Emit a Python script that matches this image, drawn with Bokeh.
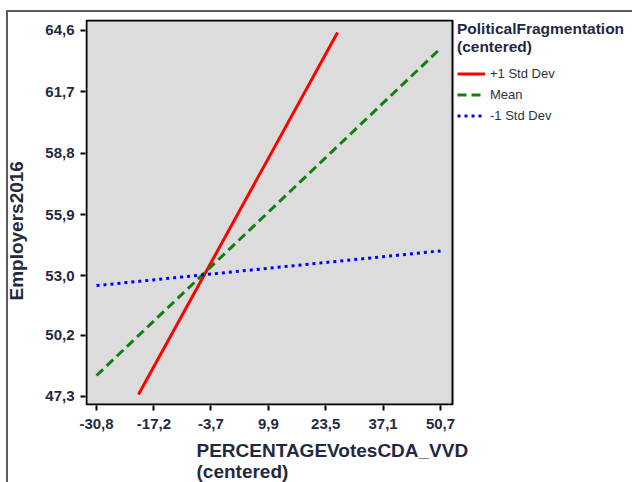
from bokeh.plotting import figure
from bokeh.models import Legend, LegendItem, FixedTicker, Range1d, Title, BoxAnnotation
from bokeh.embed import file_html
from bokeh.resources import INLINE

# data
x_ticks = [-30.8, -17.2, -3.7, 9.9, 23.5, 37.1, 50.7]
x_tick_labels = ["-30,8", "-17,2", "-3,7", "9,9", "23,5", "37,1", "50,7"]
y_ticks = [47.3, 50.2, 53.0, 55.9, 58.8, 61.7, 64.6]
y_tick_labels = ["47,3", "50,2", "53,0", "55,9", "58,8", "61,7", "64,6"]

plus_x = [-20.85, 26.3]
plus_y = [47.39, 64.5]
mean_x = [-30.8, 50.7]
mean_y = [48.29, 63.75]
minus_x = [-30.8, 50.7]
minus_y = [52.54, 54.18]

series_names = ["+1 Std Dev", "Mean", "-1 Std Dev"]
legend_title = ["PoliticalFragmentation", "(centered)"]
x_label = ["PERCENTAGEVotesCDA_VVD", "(centered)"]
y_label = "Employers2016"

# plot-area (gray box) limits in data units
box_x = (-33.17, 53.54)
box_y = (46.92, 65.07)

FONT = "Liberation Sans"
TICK_COLOR = "#1f2a40"

frame_lines = ("linear-gradient(#5a5a5a, #5a5a5a) 36px 10px / 2px 480px no-repeat, "
               "linear-gradient(#5a5a5a, #5a5a5a) 36px 10px / 630px 2px no-repeat, #ffffff")

p = figure(width=662, height=500, output_backend="svg", toolbar_location=None,
           x_range=Range1d(-33.41, 96.18), y_range=Range1d(46.873, 65.117),
           min_border_left=115, min_border_right=0, min_border_top=19, min_border_bottom=95,
           margin=(0, 0, 0, -30), styles={"background": frame_lines})

p.background_fill_color = "white"
p.border_fill_alpha = 0
p.outline_line_color = None
p.xgrid.visible = False
p.ygrid.visible = False

p.add_layout(BoxAnnotation(left=box_x[0], right=box_x[1], bottom=box_y[0], top=box_y[1],
                           fill_color="#dcdcdc", fill_alpha=1.0, line_color="black",
                           line_width=2, line_alpha=1.0, level="underlay"))

for ax, ticks, labels in ((p.xaxis[0], x_ticks, x_tick_labels), (p.yaxis[0], y_ticks, y_tick_labels)):
    ax.ticker = FixedTicker(ticks=ticks)
    ax.major_label_overrides = {t: l for t, l in zip(ticks, labels)}
    ax.axis_line_color = None
    ax.major_tick_line_color = "black"
    ax.major_tick_line_width = 2
    ax.major_tick_out = 5
    ax.major_tick_in = 0
    ax.minor_tick_line_color = None
    ax.major_label_text_font = FONT
    ax.major_label_text_font_style = "bold"
    ax.major_label_text_font_size = "15px"
    ax.major_label_text_color = TICK_COLOR
    ax.major_label_standoff = 6
p.xaxis[0].major_label_standoff = 8

r1 = p.line(plus_x, plus_y, line_color="#ff0000", line_width=3)
r2 = p.line(mean_x, mean_y, line_color="#108010", line_width=3, line_dash="9 5")
r3 = p.line(minus_x, minus_y, line_color="#0000ff", line_width=3, line_dash="3 4")

legend = Legend(items=[LegendItem(label=series_names[0], renderers=[r1]),
                       LegendItem(label=series_names[1], renderers=[r2]),
                       LegendItem(label=series_names[2], renderers=[r3])],
                location=(372, 279.5), orientation="vertical", title="\n".join(legend_title))
legend.title_text_font = FONT
legend.title_text_font_style = "bold"
legend.title_text_font_size = "15.5px"
legend.title_text_color = TICK_COLOR
legend.title_standoff = 7
legend.label_text_font = FONT
legend.label_text_font_size = "13px"
legend.label_text_color = "#2b3340"
legend.glyph_width = 28
legend.glyph_height = 21
legend.label_height = 21
legend.label_standoff = 5
legend.spacing = 0
legend.padding = 0
legend.margin = 0
legend.border_line_alpha = 0
legend.background_fill_alpha = 0
p.add_layout(legend, "center")

# axis labels as titles
p.add_layout(Title(text="\n".join(x_label), align="left", offset=111, text_font=FONT,
                   text_font_style="bold", text_font_size="19px", text_color=TICK_COLOR,
                   standoff=12), "below")

p.add_layout(Title(text=y_label, align="left", offset=105, text_font=FONT, text_font_style="bold",
                   text_font_size="19px", text_color=TICK_COLOR, standoff=31), "left")

open("out.html", "w").write(file_html(p, INLINE))
